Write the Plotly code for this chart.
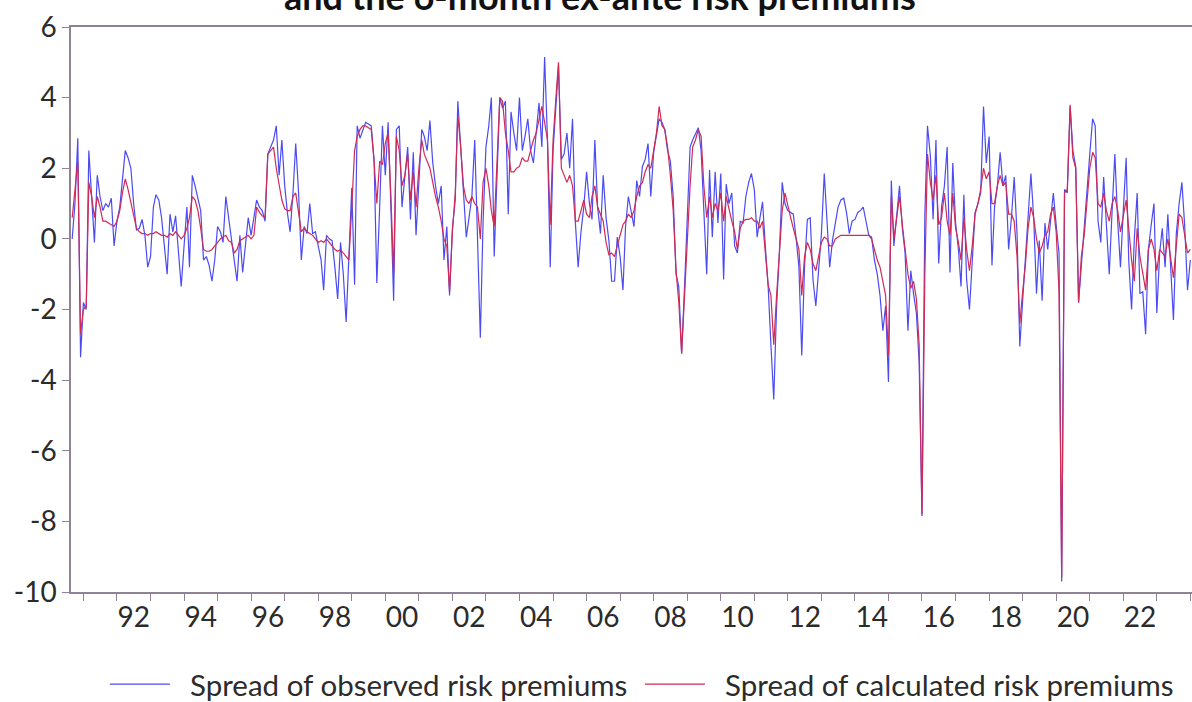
import pandas as pd
import plotly.graph_objects as go

start_month = "1990-09-01"

observed = [
    0.0, 1.0, 2.85, -3.35, -1.8, -2.0, 2.5, 1.3, -0.1, 1.8,
    1.2, 0.8, 1.0, 0.9, 1.15, -0.2, 0.5, 0.9, 1.6, 2.5,
    2.3, 2.0, 1.0, 0.25, 0.3, 0.55, 0.1, -0.8, -0.5, 0.9,
    1.25, 1.1, 0.6, -0.2, -1.0, 0.7, 0.2, 0.65, -0.3, -1.35,
    -0.2, 0.9, -0.8, 1.8, 1.5, 1.1, 0.8, -0.6, -0.5, -0.75,
    -1.2, -0.6, 0.35, 0.2, -0.1, 1.2, 0.55, 0.0, -0.6, -1.2,
    0.1, -0.95, -0.2, 0.6, 0.1, 0.6, 1.1, 0.9, 0.8, 0.5,
    2.4, 2.6, 2.8, 3.2, 1.8, 2.8, 1.5, 0.7, 0.2, 1.3,
    2.7, 1.3, -0.6, 0.35, 0.15, 1.0, 0.15, 0.2, -0.2, -0.6,
    -1.45, 0.1, 0.0, -0.05, -0.8, -1.7, -0.1, -1.0, -2.35, -0.5,
    1.45, -1.3, 3.2, 2.85, 3.1, 3.3, 3.25, 3.2, 2.25, -1.25,
    0.9, 3.2, 1.8, 3.3, 1.0, -1.75, 3.1, 3.2, 0.9, 1.7,
    2.6, 0.55, 2.45, 0.1, 1.7, 3.1, 2.9, 2.5, 3.35, 2.15,
    1.5, 1.0, 1.5, -0.6, 0.35, -1.6, 0.3, 1.1, 3.9, 2.7,
    1.5, 0.05, 0.6, 1.2, 2.8, 0.2, -2.8, 0.5, 2.6, 3.2,
    4.0, -0.5, 2.0, 4.0, 3.7, 3.9, 0.7, 3.6, 3.0, 2.5,
    4.0, 2.5, 2.9, 3.4, 2.5, 2.15, 3.0, 3.85, 2.6, 5.15,
    2.8, -0.8, 2.5, 3.75, 4.9, 2.25, 2.4, 3.0, 2.0, 3.4,
    0.45, -0.8, 0.2, 0.9, 1.9, 1.0, 0.55, 2.8, 0.9, 0.15,
    1.8, 0.6, -0.05, -1.2, -1.2, 0.05, -0.5, -1.45, 0.35, 1.2,
    0.8, 0.35, 1.65, 1.2, 2.05, 2.25, 2.7, 1.2, 2.45, 2.9,
    3.4, 3.3, 3.1, 2.5, 2.2, 1.2, -1.0, -1.35, -3.25, -1.45,
    0.35, 2.6, 2.8, 3.0, 3.15, 2.5, 0.9, -1.0, 1.95, 0.05,
    1.9, 0.45, 1.85, -1.15, 1.55, 1.0, 1.3, -0.2, -0.4, 0.5,
    0.45, 1.2, 1.6, 1.85, 1.4, 0.05, 0.55, 1.05, -0.2, -1.35,
    -3.0, -4.55, -1.9, -0.4, 1.6, 1.0, 0.8, 0.75, 0.7, 0.0,
    -0.8, -3.3, -0.8, 0.55, 0.6, -1.15, -1.9, -0.9, 0.15, 1.85,
    0.55, -0.8, -0.05, 0.4, 0.9, 1.1, 1.15, 0.75, 0.15, 0.5,
    0.55, 0.75, 0.8, 0.9, 0.55, 0.1, 0.05, -0.6, -1.0, -1.6,
    -2.6, -1.9, -4.05, 1.65, -0.2, 0.6, 1.5, 0.3, -0.4, -2.6,
    -0.9, -1.55, -2.1, -3.5, -7.85, 0.7, 3.2, 2.35, 0.55, 2.8,
    -0.7, 0.9, 1.5, 2.6, -0.95, 2.15, 0.45, -0.3, -1.35, 1.25,
    -1.15, -2.0, -0.8, 0.75, 1.0, 1.3, 3.75, 2.15, 2.9, -0.75,
    0.9, 1.5, 2.45, 1.5, 1.8, -0.3, 0.6, 1.75, 0.15, -3.05,
    -1.75, -0.4, 0.7, 1.85, 0.6, -1.55, -0.05, -1.75, 0.45, -0.3,
    0.5, 1.3, 0.4, -0.4, -9.7, 1.4, 1.3, 3.75, 2.5, 2.05,
    -1.8, -0.7, 0.15, 1.5, 2.4, 3.4, 3.2, 0.5, -0.1, 1.75,
    0.3, -1.0, 0.8, 2.4, 0.5, -0.8, 0.8, 2.3, -0.6, -2.0,
    0.0, 1.3, -1.55, -1.5, -2.7, -0.3, 0.4, 1.0, -2.1, -0.4,
    0.3, -0.8, 0.7, -0.8, -2.3, 0.15, 1.0, 1.6, 0.35, -1.45,
    -0.6,
]

calculated = [
    0.6, 1.5, 2.2, -2.7, -2.0, -1.9, 1.6, 1.2, 0.6, 1.2,
    0.9, 0.5, 0.5, 0.45, 0.4, 0.35, 0.5, 0.8, 1.3, 1.7,
    1.4, 1.0, 0.6, 0.3, 0.2, 0.15, 0.15, 0.1, 0.15, 0.15,
    0.2, 0.15, 0.1, 0.1, 0.05, 0.15, 0.1, 0.2, 0.1, 0.0,
    0.1, 0.3, 0.6, 1.2, 1.1, 0.8, 0.3, -0.3, -0.35, -0.35,
    -0.3, -0.2, -0.1, 0.0, 0.05, 0.1, -0.05, -0.1, -0.4, -0.3,
    -0.05, 0.0, 0.05, 0.1, 0.0, 0.1, 0.9, 0.75, 0.65, 0.6,
    2.4, 2.5, 2.6, 2.0, 1.5, 1.1, 0.85, 0.8, 0.8, 1.2,
    1.3, 0.8, 0.2, 0.3, 0.2, 0.15, 0.1, 0.0, -0.1, -0.05,
    -0.1, 0.0, -0.1, -0.2, -0.3, -0.35, -0.3, -0.4, -0.5, -0.6,
    0.9, 2.5, 2.9, 3.1, 3.2, 3.2, 3.15, 3.1, 2.2, 1.0,
    2.2, 2.1, 2.7, 3.0, 1.3, -1.0, 2.9, 2.5, 1.5, 1.8,
    2.4, 1.1, 1.9, 0.9, 2.0, 2.8, 2.4, 2.2, 2.0, 1.6,
    1.2, 0.9, 0.5, 0.0, -0.2, -1.5, 0.2, 1.3, 3.5, 2.6,
    1.5, 1.1, 1.0, 1.2, 1.0, 0.9, 0.0, 1.6, 2.0, 1.5,
    0.8, 0.35, 2.0, 4.0, 3.9, 3.0, 2.5, 1.9, 1.9, 2.0,
    2.05, 2.3, 2.2, 2.2, 2.5, 2.8, 3.0, 3.4, 3.75, 3.3,
    2.8, 0.4, 2.8, 4.0, 5.0, 2.0, 1.8, 1.6, 1.8, 1.5,
    0.5, 0.5, 0.8, 1.1, 0.7, 0.6, 1.2, 1.5, 0.9, 0.7,
    0.5, -0.1, -0.45, -0.4, -0.5, -0.2, 0.1, 0.4, 0.5, 0.7,
    0.6, 0.8, 1.2, 1.5, 1.6, 1.9, 2.1, 2.0, 2.5, 3.0,
    3.75, 3.2, 3.1, 2.6, 1.8, 0.8, -0.9, -1.8, -3.24, -1.6,
    0.0, 1.5, 2.6, 2.8, 3.1, 2.9, 1.5, 0.6, 1.2, 0.6,
    1.0, 0.8, 1.3, 0.5, 1.2, 0.8, 0.5, 0.2, -0.3, 0.3,
    0.5, 0.55, 0.55, 0.6, 0.5, 0.5, 0.3, 0.5, -0.5, -1.3,
    -1.6, -3.0, -1.6, -0.5, 0.8, 1.3, 0.9, 0.6, 0.3, 0.0,
    -0.3, -1.6, -0.5, -0.1, -0.3, -0.7, -0.9, -0.5, -0.1, 0.05,
    0.0, -0.2, -0.2, 0.0, 0.05, 0.1, 0.1, 0.1, 0.1, 0.1,
    0.1, 0.1, 0.1, 0.1, 0.1, 0.1, 0.0, -0.3, -0.6, -0.8,
    -1.2, -1.6, -3.3, 1.2, 0.0, 0.6, 1.2, 0.4, -0.3, -1.0,
    -1.4, -1.2, -1.7, -3.0, -7.8, -1.0, 2.4, 1.6, 1.1, 1.8,
    0.4, 0.6, 1.3, 0.5, 0.1, 1.3, 0.3, -0.1, -0.6, 0.6,
    -0.3, -0.9, -0.2, 0.7, 1.0, 1.4, 2.0, 1.7, 1.9, 1.0,
    1.0, 1.5, 1.8, 1.5, 1.6, 0.7, 0.7, 0.5, -0.5, -2.4,
    -1.5, -0.7, 0.3, 0.9, 0.6, 0.0, -0.4, -0.2, 0.1, 0.2,
    0.7, 0.9, 0.2, -1.5, -9.6, 1.3, 1.4, 3.8, 2.3, 2.0,
    -1.8, -0.5, 0.1, 1.0, 2.0, 2.45, 2.3, 1.0, 0.9, 1.3,
    0.8, 0.5, 1.0, 1.2, 0.8, 0.2, 0.7, 1.1, 0.3, -0.6,
    -1.2, 0.3, -0.5, -1.0, -1.45, -0.3, 0.0, -0.3, -0.9, -0.3,
    -0.4, -0.5, 0.0, -0.6, -1.1, -0.2, 0.7, 0.6, 0.1, -0.4,
    -0.3,
]

series_names = ["Spread of observed risk premiums",
                "Spread of calculated risk premiums"]
year_labels = ["92", "94", "96", "98", "00", "02", "04", "06",
               "08", "10", "12", "14", "16", "18", "20", "22"]
label_years = [1992 + 2 * k for k in range(len(year_labels))]
tick_years = list(range(1991, 2025))
y_ticks = [-10, -8, -6, -4, -2, 0, 2, 4, 6]
y_tick_labels = ["-10", "-8", "-6", "-4", "-2", "0", "2", "4", "6"]

dates = pd.date_range(start_month, periods=len(observed), freq="MS")

axis_color = "#8f8294"
text_color = "#2b2b2b"
font_family = "Lato, 'Open Sans', sans-serif"
nb = "\u00a0"

fig = go.Figure()
fig.add_trace(go.Scatter(
    x=dates, y=observed, mode="lines",
    name=nb * 2 + series_names[0] + nb,
    line=dict(color="#4b4bf5", width=1.2),
))
fig.add_trace(go.Scatter(
    x=dates[:len(calculated)], y=calculated, mode="lines",
    name=nb * 2 + series_names[1],
    line=dict(color="#d02a55", width=1.2),
))

fig.update_layout(
    width=1192, height=702,
    margin=dict(l=71, r=0, t=27, b=110, autoexpand=False),
    paper_bgcolor="white", plot_bgcolor="white",
    font=dict(family=font_family, size=28, color=text_color),
    showlegend=True,
    legend=dict(orientation="h", x=0.088, xanchor="left",
                xref="container", yref="container",
                y=0.025, yanchor="middle",
                font=dict(size=29.5, color=text_color),
                itemwidth=60, tracegroupgap=0),
    annotations=[dict(
        text="<b>and the 6-month ex-ante risk premiums</b>",
        xref="paper", yref="paper", x=0.472, y=1, xanchor="center",
        yanchor="bottom", yshift=7, showarrow=False,
        font=dict(size=36, color="#111111", family=font_family),
    )],
)

fig.update_xaxes(
    range=["1990-08-19", "2024-01-19"],
    tickmode="array",
    tickvals=[f"{y}-07-02" for y in label_years],
    ticktext=year_labels,
    ticks="outside", ticklen=0,
    minor=dict(tickmode="array",
               tickvals=[f"{y}-01-01" for y in tick_years],
               ticks="outside", ticklen=7, tickcolor=axis_color, tickwidth=1),
    showgrid=False, zeroline=False, automargin=False,
    showline=True, linecolor=axis_color, linewidth=1.5, mirror=True,
    tickfont=dict(size=28, color=text_color),
)
fig.update_yaxes(
    range=[-10, 6],
    tickmode="array", tickvals=y_ticks, ticktext=y_tick_labels,
    ticks="outside", ticklen=7, tickcolor=axis_color,
    showgrid=False, zeroline=False, automargin=False,
    showline=True, linecolor=axis_color, linewidth=1.5,
    tickfont=dict(size=28, color=text_color),
)

fig.write_html("out.html", config={"displayModeBar": False},
               post_script="document.body.style.margin='0px';")
